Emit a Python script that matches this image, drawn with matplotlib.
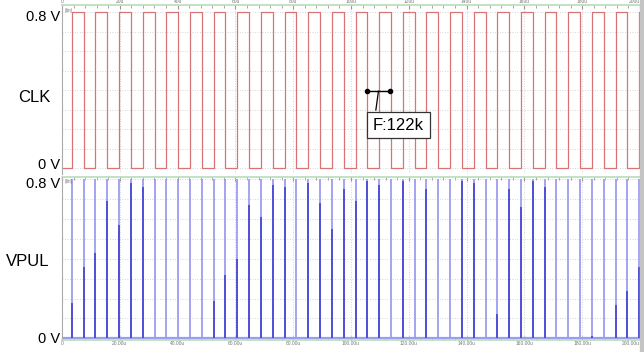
import numpy as np
import matplotlib
matplotlib.use("Agg")
from matplotlib import pyplot as plt
from matplotlib.patches import Rectangle

plt.rcParams['font.family'] = ['Liberation Sans', 'DejaVu Sans']

# clock edge times (us); CLK goes high at the first one
edges = [3.40, 7.49, 11.58, 15.67, 19.76, 23.85, 27.94, 32.03, 36.12, 40.21,
         44.30, 48.39, 52.48, 56.57, 60.66, 64.75, 68.84, 72.93, 77.02, 81.11,
         85.20, 89.29, 93.38, 97.47, 101.56, 105.65, 109.74, 113.83, 117.92, 122.01,
         126.10, 130.19, 134.28, 138.37, 142.46, 146.55, 150.64, 154.73, 158.82, 162.91,
         167.00, 171.09, 175.18, 179.27, 183.36, 187.45, 191.54, 195.63, 199.72]

clk_high = 0.8
clk_low = 0.0

# VPUL spikes at each edge: full height (light) and the darker part
spike_full = [0.8] * len(edges)
spike_dark = [0.18, 0.36, 0.43, 0.69, 0.57, 0.78, 0.76, 0, 0, 0,
              0, 0, 0.19, 0.32, 0.40, 0.67, 0.61, 0.77, 0.76, 0,
              0.78, 0.68, 0.55, 0.75, 0.69, 0.79, 0.77, 0, 0.79, 0,
              0.75, 0, 0, 0.79, 0.78, 0, 0.12, 0.75, 0.66, 0.79,
              0.76, 0, 0, 0, 0.01, 0, 0.17, 0.24, 0.36]

top_ticks = [0, 20, 40, 60, 80, 100, 120, 140, 160, 180, 200]
top_ticklabels = ['0', '20u', '40u', '60u', '80u', '100u', '120u', '140u', '160u', '180u', '200u']
bot_ticklabels = ['0', '20.00u', '40.00u', '60.00u', '80.00u', '100.00u', '120.00u',
                  '140.00u', '160.00u', '180.00u', '200.00u']

marker_t = [105.5, 113.5]
marker_v = 0.396
freq_label = 'F:122k'

W, H = 644, 352
fig = plt.figure(figsize=(W / 100, H / 100), dpi=100)

def px(x, y):
    return x / W, 1 - y / H

red = '#d97474'
blue_light = '#9c9cf0'
blue_dark = '#4a4ad4'
green = '#b8dcb8'
grid_c = '#c8c8c8'

ax1 = fig.add_axes([62 / W, 1 - 174 / H, 578 / W, (174 - 5.3) / H])
ax2 = fig.add_axes([62 / W, 1 - 340 / H, 578 / W, (340 - 176.7) / H])

for ax in (ax1, ax2):
    ax.set_xlim(0, 200)
    ax.set_xticks(top_ticks)
    ax.set_xticks(np.arange(0, 201, 4), minor=True)
    ax.set_yticks(np.arange(0, 0.81, 0.1))
    ax.set_yticklabels([])
    ax.tick_params(axis='y', length=0)
    ax.tick_params(axis='x', which='both', direction='in', color='#999999',
                   labelsize=3.5, labelcolor='#777777', pad=1)
    ax.tick_params(axis='x', which='major', length=3)
    ax.tick_params(axis='x', which='minor', length=2)
    ax.grid(True, which='major', color=grid_c, linestyle=(0, (1, 2)), linewidth=0.6)
    ax.spines['right'].set_visible(False)
    ax.spines['left'].set_color('#aaaaaa')
    ax.spines['left'].set_linewidth(0.8)
    ax.set_axisbelow(True)
    ax.text(0.004, 0.985, '(lin)', transform=ax.transAxes, fontsize=3.5,
            color='#777777', va='top', ha='left')

# top panel: CLK
ax1.set_ylim(-0.029, 0.836)
ax1.xaxis.tick_top()
ax1.set_xticklabels(top_ticklabels)
ax1.spines['top'].set_color(green)
ax1.spines['top'].set_linewidth(1.2)
ax1.spines['bottom'].set_visible(False)

xs = [0.0]
ys = [clk_low]
level = clk_low
for e in edges:
    xs += [e, e]
    nxt = clk_high if level == clk_low else clk_low
    ys += [level, nxt]
    level = nxt
xs.append(200.0)
ys.append(level)
ax1.plot(xs, ys, color=red, lw=0.9)

# frequency marker
ax1.plot(marker_t, [marker_v, marker_v], color='black', lw=1.0,
         marker='o', markersize=3)
mid = (marker_t[0] + marker_t[1]) / 2
ax1.plot([mid, mid - 0.9], [marker_v, 0.299], color='black', lw=0.9)
ax1.text(116.4, 0.222, freq_label, fontsize=12, ha='center', va='center',
         bbox=dict(boxstyle='square,pad=0.35', fc='white', ec='#333333', lw=0.9))

# bottom panel: VPUL
ax2.set_ylim(-0.0086, 0.813)
ax2.set_xticklabels(bot_ticklabels)
ax2.spines['top'].set_color(green)
ax2.spines['top'].set_linewidth(1.2)
ax2.spines['bottom'].set_color(green)
ax2.spines['bottom'].set_linewidth(1.2)
ax2.tick_params(axis='x', which='both', top=True)

# keep the last tick labels inside the figure
for ax in (ax1, ax2):
    ax.get_xticklabels()[-1].set_horizontalalignment('right')

ax2.axhline(0, color=blue_light, lw=1.6)
ax2.vlines(edges, 0, spike_full, color=blue_light, lw=1.3)
ax2.vlines(edges, 0, spike_dark, color=blue_dark, lw=1.3)

# right-hand gray bar
fig.add_artist(Rectangle(px(640, 352), 4 / W, 1, transform=fig.transFigure,
                         color='#c4c4c4', zorder=5))

# panel labels
fig.text(*px(34, 97), 'CLK', fontsize=12, ha='center', va='center')
fig.text(*px(28, 262), 'VPUL', fontsize=12, ha='center', va='center')
fig.text(*px(60, 17), '0.8 V', fontsize=10.5, ha='right', va='center')
fig.text(*px(60, 165), '0 V', fontsize=10.5, ha='right', va='center')
fig.text(*px(60, 184), '0.8 V', fontsize=10.5, ha='right', va='center')
fig.text(*px(60, 339), '0 V', fontsize=10.5, ha='right', va='center')

fig.savefig('out.png', dpi=100)
